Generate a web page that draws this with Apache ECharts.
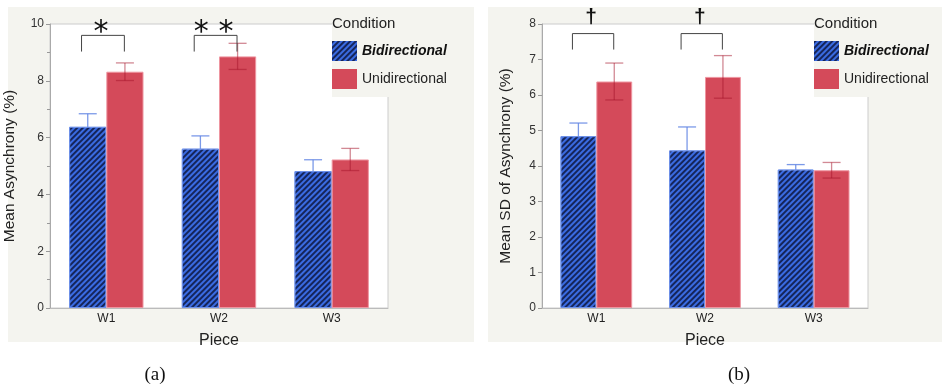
<!DOCTYPE html>
<html>
<head>
<meta charset="utf-8">
<script src="https://cdn.jsdelivr.net/npm/echarts@6/dist/echarts.min.js"></script>
<style>
html,body{margin:0;padding:0;background:#fff;}
#c{width:942px;height:387px;}
</style>
</head>
<body>
<div id="c"></div>
<script>
const categories = ['W1', 'W2', 'W3'];
const seriesNames = ['Bidirectional', 'Unidirectional'];
// (a) Mean Asynchrony (%)
const asyncBi = [6.38, 5.61, 4.82];
const asyncBiErr = [0.46, 0.45, 0.40];
const asyncUni = [8.32, 8.86, 5.23];
const asyncUniErr = [0.31, 0.46, 0.39];
// (b) Mean SD of Asynchrony (%)
const sdBi = [4.84, 4.44, 3.90];
const sdBiErr = [0.37, 0.66, 0.14];
const sdUni = [6.38, 6.51, 3.88];
const sdUniErr = [0.52, 0.60, 0.22];
// significance brackets
const sigACats = [0, 1];
const sigALabels = ['*', '* *'];
const sigATop = [9.6, 9.6];
const sigALeg = [9.03, 9.03];
const sigBCats = [0, 1];
const sigBLabels = ['†', '†'];
const sigBTop = [7.73, 7.73];
const sigBLeg = [7.28, 7.28];
// y-axis ticks
const yTicksA = [0, 2, 4, 6, 8, 10];
const yTicksB = [0, 1, 2, 3, 4, 5, 6, 7, 8];

const PANEL = '#f4f4ef';
const FONT = '"Liberation Sans", Arial, sans-serif';
const BLUE = '#3a6be2';
const NAVY = '#15255a';
const RED = '#d44a5a';

const chart = echarts.init(document.getElementById('c'), null, {renderer: 'canvas'});

function errRender(side, color) {
  return function (params, api) {
    const i = api.value(0), v = api.value(1), e = api.value(2);
    const cw = api.size([1, 0])[0];
    const off = side * cw * 0.165;
    const t = api.coord([i, v + e]);
    const b = api.coord([i, v - e]);
    const x = t[0] + off;
    const cap = 9;
    const st = {stroke: color, lineWidth: 1.3};
    return {type: 'group', children: [
      {type: 'line', shape: {x1: x, y1: t[1], x2: x, y2: b[1]}, style: st},
      {type: 'line', shape: {x1: x - cap, y1: t[1], x2: x + cap, y2: t[1]}, style: st},
      {type: 'line', shape: {x1: x - cap, y1: b[1], x2: x + cap, y2: b[1]}, style: st}
    ]};
  };
}

function sigRender(labels, font, textOffset) {
  return function (params, api) {
    const i = api.value(0), top = api.value(1), leg = api.value(2);
    const cw = api.size([1, 0])[0];
    const c = api.coord([i, top]);
    const l = api.coord([i, leg]);
    const x1 = c[0] - 0.22 * cw, x2 = c[0] + 0.16 * cw;
    return {type: 'group', children: [
      {type: 'polyline', shape: {points: [[x1, l[1]], [x1, c[1]], [x2, c[1]], [x2, l[1]]]},
       style: {stroke: '#444', lineWidth: 1, fill: null}},
      {type: 'text', x: (x1 + x2) / 2 - 2, y: c[1] - textOffset,
       style: {text: labels[params.dataIndex], font: font, fill: '#111',
               textAlign: 'center', textVerticalAlign: 'middle'}}
    ]};
  };
}

function yAxis(idx, max, interval, minor, name, nameGap) {
  return {
    type: 'value', gridIndex: idx, min: 0, max: max, interval: interval,
    name: name, nameLocation: 'middle', nameGap: nameGap,
    nameTextStyle: {fontFamily: FONT, fontSize: 15.5, color: '#222'},
    axisLine: {show: true, lineStyle: {color: '#aaa'}},
    axisTick: {show: true, length: 4, lineStyle: {color: '#999'}},
    minorTick: {show: minor, splitNumber: 2, length: 3, lineStyle: {color: '#999'}},
    splitLine: {show: false},
    axisLabel: {fontFamily: FONT, fontSize: 12, color: '#333', margin: 6}
  };
}
function xAxis(idx) {
  return {
    type: 'category', gridIndex: idx, data: categories,
    name: 'Piece', nameLocation: 'middle', nameGap: 25,
    nameTextStyle: {fontFamily: FONT, fontSize: 16, color: '#222'},
    axisLine: {show: true, lineStyle: {color: '#bbb'}},
    axisTick: {show: false},
    axisLabel: {fontFamily: FONT, fontSize: 12, color: '#222', margin: 5}
  };
}

const biStyle = {
  color: BLUE, borderColor: '#6f92ea', borderWidth: 1,
  decal: {symbol: 'rect', symbolSize: 1, dashArrayX: [1, 0], dashArrayY: [2, 2], rotation: -Math.PI / 4, color: NAVY}
};
const uniStyle = {color: RED, borderColor: '#ee95a0', borderWidth: 1};

function barSeries(name, idx, vals, style) {
  return {name: name, type: 'bar', xAxisIndex: idx, yAxisIndex: idx, data: vals,
          barWidth: '33%', barGap: '0%', itemStyle: style, z: 2, animation: false};
}
function errSeries(idx, vals, errs, side, color, z) {
  return {type: 'custom', xAxisIndex: idx, yAxisIndex: idx, z: z, silent: true, animation: false,
          renderItem: errRender(side, color),
          data: categories.map((c, i) => [i, vals[i], errs[i]])};
}
function sigSeries(idx, cats, top, leg, labels, font, off) {
  return {type: 'custom', xAxisIndex: idx, yAxisIndex: idx, z: 5, silent: true, clip: false, animation: false,
          renderItem: sigRender(labels, font, off),
          data: cats.map((c, i) => [c, top[i], leg[i]])};
}

function legend(left) {
  return {
    left: left, top: 41, orient: 'vertical', padding: 0, itemGap: 8,
    itemWidth: 25, itemHeight: 20, data: seriesNames.map(n => ({name: n, icon: 'rect'})), z: 10,
    formatter: n => n === 'Bidirectional' ? '{b|' + n + '}' : '{n|' + n + '}',
    textStyle: {rich: {
      b: {fontFamily: FONT, fontSize: 14, fontWeight: 'bold', fontStyle: 'italic', color: '#111'},
      n: {fontFamily: FONT, fontSize: 14, color: '#222'}
    }},
    itemStyle: {borderWidth: 0}
  };
}

const option = {
  backgroundColor: '#fff',
  animation: false,
  graphic: [
    {type: 'rect', z: -10, shape: {x: 8, y: 7, width: 466, height: 335}, style: {fill: PANEL}},
    {type: 'rect', z: -10, shape: {x: 488, y: 7, width: 454, height: 335}, style: {fill: PANEL}},
    {type: 'rect', z: 8, shape: {x: 332, y: 7, width: 142, height: 90}, style: {fill: PANEL}},
    {type: 'rect', z: 8, shape: {x: 814, y: 7, width: 128, height: 90}, style: {fill: PANEL}},
    {type: 'text', z: 9, x: 332, y: 24, style: {text: 'Condition', font: '15px ' + FONT, fill: '#222', textVerticalAlign: 'middle'}},
    {type: 'text', z: 9, x: 814, y: 24, style: {text: 'Condition', font: '15px ' + FONT, fill: '#222', textVerticalAlign: 'middle'}},
    {type: 'text', x: 155, y: 375, style: {text: '(a)', font: '19px "Liberation Serif", "Times New Roman", serif', fill: '#111', textAlign: 'center', textVerticalAlign: 'middle'}},
    {type: 'text', x: 739, y: 375, style: {text: '(b)', font: '19px "Liberation Serif", "Times New Roman", serif', fill: '#111', textAlign: 'center', textVerticalAlign: 'middle'}}
  ],
  legend: [legend(332), legend(814)],
  grid: [
    {left: 50, top: 24, width: 338, height: 284, show: true, backgroundColor: '#fff', borderColor: '#ccc', borderWidth: 1},
    {left: 542, top: 24, width: 326, height: 284, show: true, backgroundColor: '#fff', borderColor: '#ccc', borderWidth: 1}
  ],
  xAxis: [xAxis(0), xAxis(1)],
  yAxis: [
    yAxis(0, yTicksA[yTicksA.length - 1], yTicksA[1] - yTicksA[0], true, 'Mean Asynchrony (%)', 32),
    yAxis(1, yTicksB[yTicksB.length - 1], yTicksB[1] - yTicksB[0], false, 'Mean SD of Asynchrony (%)', 28)
  ],
  series: [
    errSeries(0, asyncBi, asyncBiErr, -1, 'rgba(100,135,228,0.85)', 1),
    barSeries('Bidirectional', 0, asyncBi, biStyle),
    barSeries('Unidirectional', 0, asyncUni, uniStyle),
    errSeries(0, asyncUni, asyncUniErr, 1, 'rgba(165,20,42,0.5)', 3),
    sigSeries(0, sigACats, sigATop, sigALeg, sigALabels, '30px "DejaVu Sans", ' + FONT, 2),
    errSeries(1, sdBi, sdBiErr, -1, 'rgba(100,135,228,0.85)', 1),
    barSeries('Bidirectional', 1, sdBi, biStyle),
    barSeries('Unidirectional', 1, sdUni, uniStyle),
    errSeries(1, sdUni, sdUniErr, 1, 'rgba(165,20,42,0.5)', 3),
    sigSeries(1, sigBCats, sigBTop, sigBLeg, sigBLabels, 'bold 21px ' + FONT, 16)
  ]
};
chart.setOption(option);
</script>
</body>
</html>
